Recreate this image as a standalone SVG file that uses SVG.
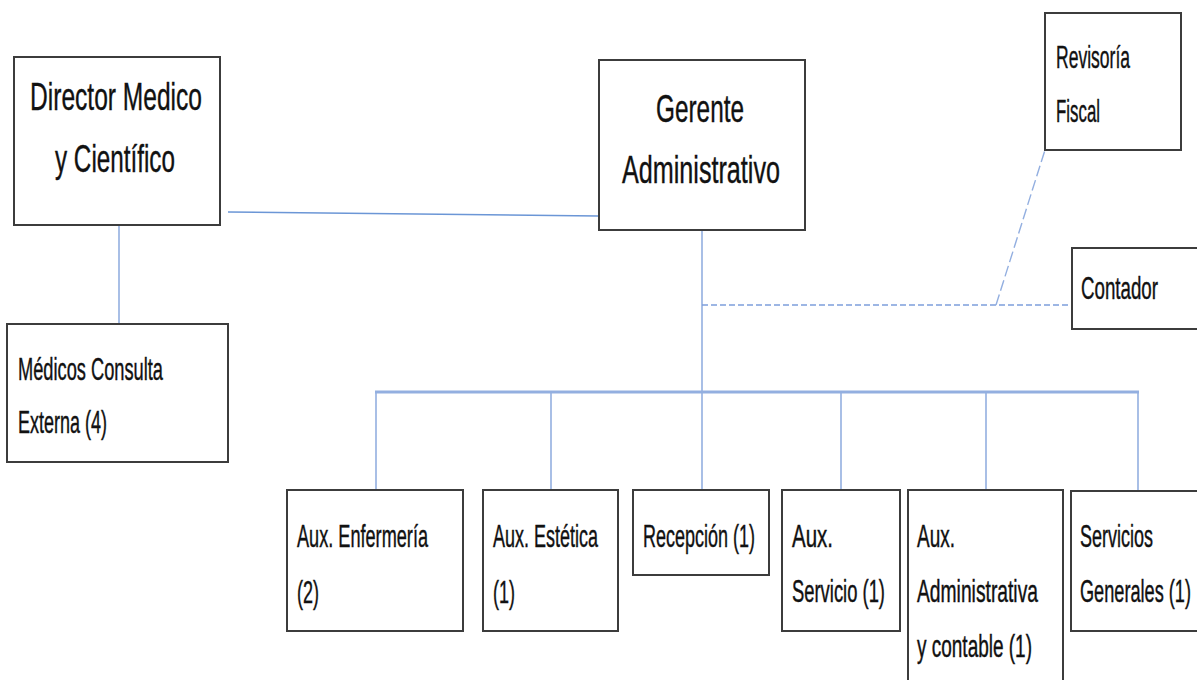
<svg xmlns="http://www.w3.org/2000/svg" width="1197" height="680" viewBox="0 0 1197 680">
<style>
.box{fill:#fff;stroke:#3c3c3c;stroke-width:2}
.t{font-family:"Liberation Sans",Arial,sans-serif;fill:#111;stroke:#111;stroke-width:0.25}
.big{font-size:24.5px}
.sm{font-size:18.4px}
.c{stroke:#93afe0;stroke-width:1.6;fill:none}
.bus{stroke:#93afe0;stroke-width:3;fill:none}
.d{stroke:#7d9fdc;stroke-width:1.6;fill:none;stroke-dasharray:6 3}
.d2{stroke:#93afe0;stroke-width:1.4;fill:none;stroke-dasharray:11 4}
</style>
<rect width="1197" height="680" fill="#fff"/>
<g id="connectors">
<line class="c" x1="228" y1="212" x2="598" y2="216" style="stroke:#6b96d6"/>
<line class="c" x1="119" y1="226" x2="119" y2="324"/>
<line class="c" x1="702" y1="231" x2="702" y2="392"/>
<line class="bus" x1="375" y1="392" x2="1139" y2="392"/>
<line class="c" x1="376" y1="392" x2="376" y2="490"/>
<line class="c" x1="551" y1="392" x2="551" y2="490"/>
<line class="c" x1="702" y1="392" x2="702" y2="490"/>
<line class="c" x1="841" y1="392" x2="841" y2="490"/>
<line class="c" x1="986" y1="392" x2="986" y2="490"/>
<line class="c" x1="1138" y1="392" x2="1138" y2="490"/>
<line class="d" x1="702" y1="305" x2="1072" y2="305"/>
<line class="d2" x1="996" y1="305" x2="1045" y2="150"/>
</g>
<g id="director">
<rect class="box" x="14" y="57" width="206" height="168"/>
<text class="t big" transform="matrix(1 0 0 1.6 30 110)" textLength="172" lengthAdjust="spacingAndGlyphs">Director Medico</text>
<text class="t big" transform="matrix(1 0 0 1.6 55 172)" textLength="120" lengthAdjust="spacingAndGlyphs">y Científico</text>
</g>
<g id="gerente">
<rect class="box" x="599" y="60" width="206" height="170"/>
<text class="t big" transform="matrix(1 0 0 1.6 656 122)" textLength="88" lengthAdjust="spacingAndGlyphs">Gerente</text>
<text class="t big" transform="matrix(1 0 0 1.6 622 183)" textLength="158" lengthAdjust="spacingAndGlyphs">Administrativo</text>
</g>
<g id="revisoria">
<rect class="box" x="1045" y="13" width="136" height="137"/>
<text class="t sm" transform="matrix(1 0 0 1.7 1056 68)" textLength="74" lengthAdjust="spacingAndGlyphs">Revisoría</text>
<text class="t sm" transform="matrix(1 0 0 1.7 1056 122)" textLength="44" lengthAdjust="spacingAndGlyphs">Fiscal</text>
</g>
<g id="contador">
<rect class="box" x="1072" y="248" width="130" height="81"/>
<text class="t sm" transform="matrix(1 0 0 1.7 1081 299)" textLength="77" lengthAdjust="spacingAndGlyphs">Contador</text>
</g>
<g id="medicos">
<rect class="box" x="7" y="324" width="221" height="138"/>
<text class="t sm" transform="matrix(1 0 0 1.7 18 380)" textLength="145" lengthAdjust="spacingAndGlyphs">Médicos Consulta</text>
<text class="t sm" transform="matrix(1 0 0 1.7 18 433)" textLength="89" lengthAdjust="spacingAndGlyphs">Externa (4)</text>
</g>
<g id="enfermeria">
<rect class="box" x="287" y="490" width="176" height="141"/>
<text class="t sm" transform="matrix(1 0 0 1.7 297 547)" textLength="131" lengthAdjust="spacingAndGlyphs">Aux. Enfermería</text>
<text class="t sm" transform="matrix(1 0 0 1.7 297 603)" textLength="22" lengthAdjust="spacingAndGlyphs">(2)</text>
</g>
<g id="estetica">
<rect class="box" x="483" y="490" width="135" height="141"/>
<text class="t sm" transform="matrix(1 0 0 1.7 493 547)" textLength="105" lengthAdjust="spacingAndGlyphs">Aux. Estética</text>
<text class="t sm" transform="matrix(1 0 0 1.7 493 603)" textLength="22" lengthAdjust="spacingAndGlyphs">(1)</text>
</g>
<g id="recepcion">
<rect class="box" x="633" y="490" width="136" height="85"/>
<text class="t sm" transform="matrix(1 0 0 1.7 643 547)" textLength="112" lengthAdjust="spacingAndGlyphs">Recepción (1)</text>
</g>
<g id="servicio">
<rect class="box" x="782" y="490" width="118" height="141"/>
<text class="t sm" transform="matrix(1 0 0 1.7 792 547)" textLength="41" lengthAdjust="spacingAndGlyphs">Aux.</text>
<text class="t sm" transform="matrix(1 0 0 1.7 792 602)" textLength="93" lengthAdjust="spacingAndGlyphs">Servicio (1)</text>
</g>
<g id="administrativa">
<rect class="box" x="908" y="490" width="155" height="200"/>
<text class="t sm" transform="matrix(1 0 0 1.7 917 547)" textLength="38" lengthAdjust="spacingAndGlyphs">Aux.</text>
<text class="t sm" transform="matrix(1 0 0 1.7 917 602)" textLength="121" lengthAdjust="spacingAndGlyphs">Administrativa</text>
<text class="t sm" transform="matrix(1 0 0 1.7 917 657)" textLength="115" lengthAdjust="spacingAndGlyphs">y contable (1)</text>
</g>
<g id="generales">
<rect class="box" x="1071" y="491" width="140" height="140"/>
<text class="t sm" transform="matrix(1 0 0 1.7 1080 547)" textLength="73" lengthAdjust="spacingAndGlyphs">Servicios</text>
<text class="t sm" transform="matrix(1 0 0 1.7 1080 602)" textLength="111" lengthAdjust="spacingAndGlyphs">Generales (1)</text>
</g>
</svg>
